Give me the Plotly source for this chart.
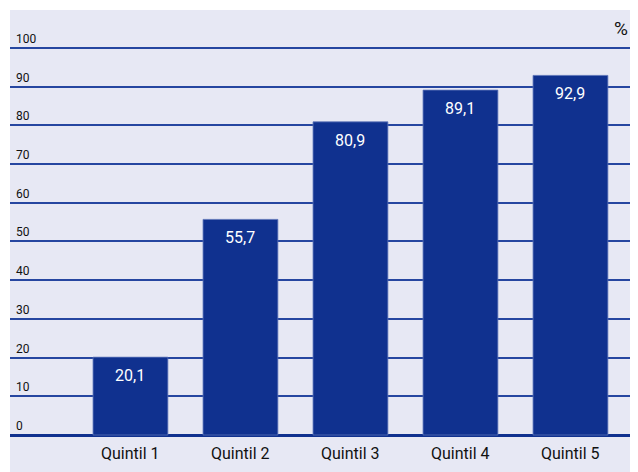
import plotly.graph_objects as go

categories = ["Quintil 1", "Quintil 2", "Quintil 3", "Quintil 4", "Quintil 5"]
values = [20.1, 55.7, 80.9, 89.1, 92.9]
tick_values = [0, 10, 20, 30, 40, 50, 60, 70, 80, 90, 100]
tick_labels = [str(v) for v in tick_values]
unit_label = "%"

FONT = "Roboto, Liberation Sans Narrow, sans-serif"
BAR = "#10318F"
BG = "#E7E8F4"
GRID = "#2646A0"

value_text = [f"{v:.1f}".replace(".", ",") for v in values]

fig = go.Figure(go.Bar(
    x=categories, y=values, width=0.68,
    marker=dict(color=BAR, line=dict(color="#5A72B8", width=0.8)),
    hoverinfo="skip",
))

annotations = []
for c, v, t in zip(categories, values, value_text):
    annotations.append(dict(x=c, xref="x", y=v, yref="y", yanchor="top", yshift=-7,
                            text=t, showarrow=False,
                            font=dict(size=16, color="white", family=FONT)))
for v, lab in zip(tick_values, tick_labels):
    annotations.append(dict(x=0, xref="paper", xanchor="left", xshift=4,
                            y=v, yref="y", yanchor="bottom", yshift=0,
                            text=lab, showarrow=False,
                            font=dict(size=12, color="#111111", family=FONT)))
for c in categories:
    annotations.append(dict(x=c, xref="x", y=0, yref="y", yanchor="top", yshift=-7,
                            text=c, showarrow=False,
                            font=dict(size=16, color="#111111", family=FONT)))
annotations.append(dict(x=1, xref="paper", xanchor="right", xshift=-8,
                        y=1, yref="paper", yanchor="top", yshift=-5,
                        text=unit_label, showarrow=False,
                        font=dict(size=19, color="#111111", family=FONT)))

fig.update_layout(
    width=630, height=464,
    margin=dict(l=2, r=0, t=2, b=0),
    paper_bgcolor="white", plot_bgcolor=BG,
    showlegend=False,
    xaxis=dict(range=[-1.095, 4.614], showticklabels=False, showgrid=False,
               zeroline=False, fixedrange=True),
    yaxis=dict(range=[-9.56, 109.8], tickvals=tick_values, showticklabels=False,
               showgrid=True, gridcolor=GRID, gridwidth=1.6,
               zeroline=True, zerolinecolor="#10318F", zerolinewidth=2.8,
               fixedrange=True),
    annotations=annotations,
)

fig.write_html("out.html")
